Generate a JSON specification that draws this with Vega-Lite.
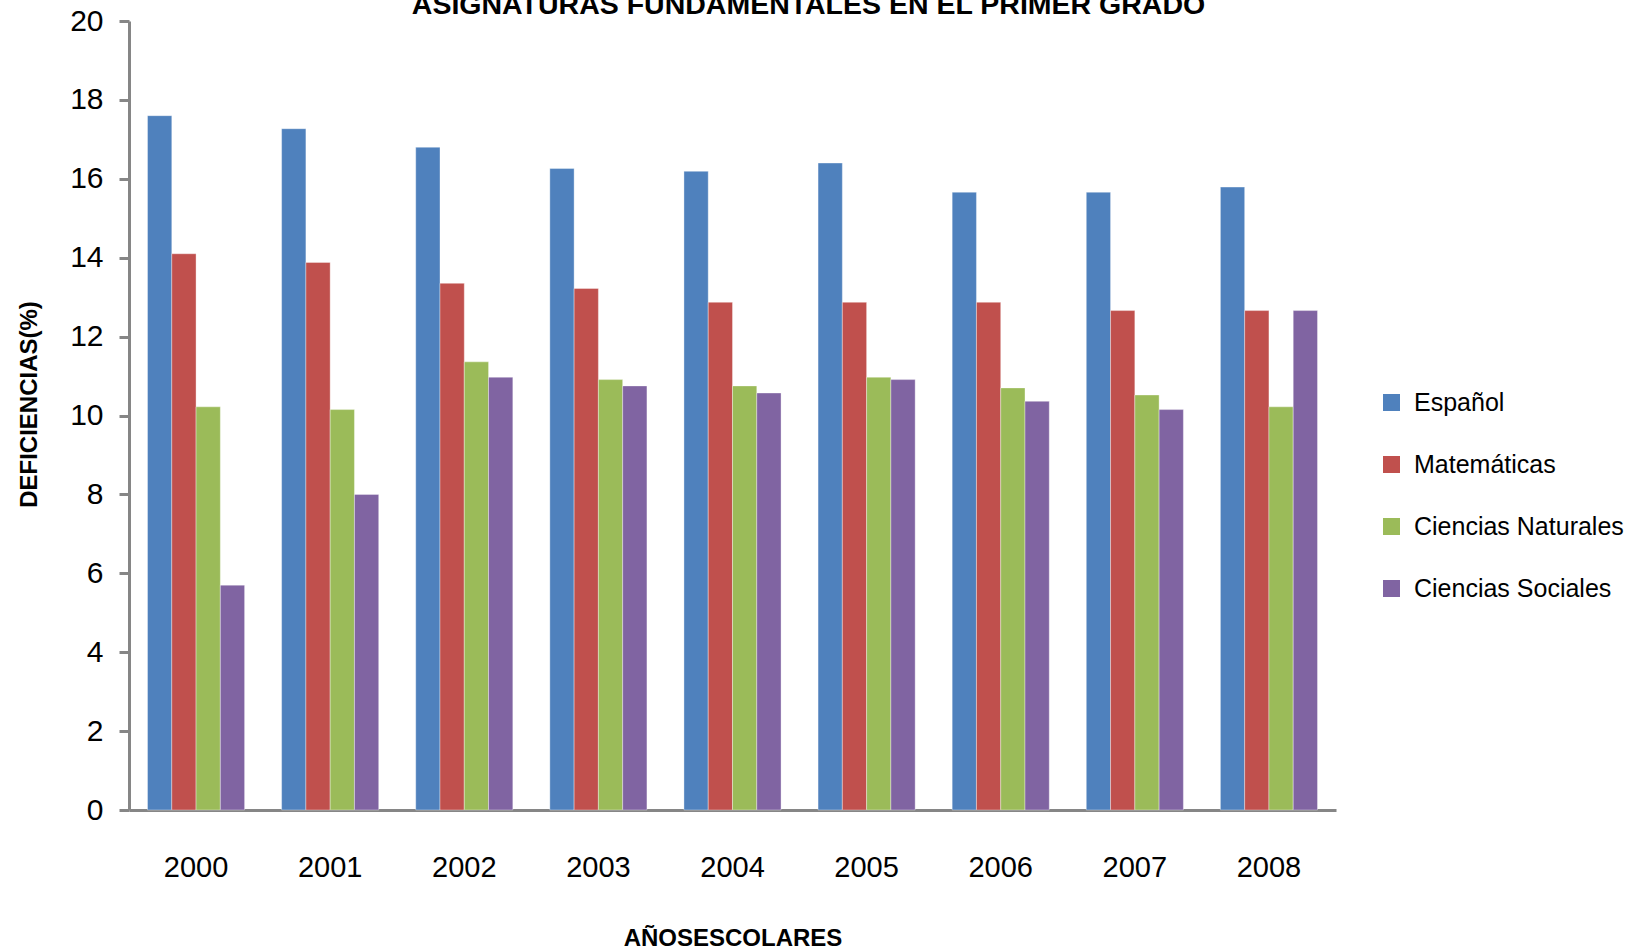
{
  "$schema": "https://vega.github.io/schema/vega-lite/v6.json",
  "autosize": {"type": "none"},
  "width": 1207,
  "height": 789,
  "padding": {"left": 129, "top": 21, "right": 301, "bottom": 142},
  "background": "white",
  "title": {
    "text": "ASIGNATURAS  FUNDAMENTALES EN EL PRIMER GRADO",
    "font": "Liberation Sans",
    "fontSize": 28.5,
    "fontWeight": "bold",
    "color": "black",
    "anchor": "middle",
    "frame": "group",
    "baseline": "alphabetic",
    "offset": -36,
    "dx": 76
  },
  "data": {
    "values": [
      {"year": "2000", "asignatura": "Español", "valor": 17.6},
      {"year": "2000", "asignatura": "Matemáticas", "valor": 14.1},
      {"year": "2000", "asignatura": "Ciencias Naturales", "valor": 10.22},
      {"year": "2000", "asignatura": "Ciencias Sociales", "valor": 5.7},
      {"year": "2001", "asignatura": "Español", "valor": 17.27},
      {"year": "2001", "asignatura": "Matemáticas", "valor": 13.88},
      {"year": "2001", "asignatura": "Ciencias Naturales", "valor": 10.15},
      {"year": "2001", "asignatura": "Ciencias Sociales", "valor": 8.0},
      {"year": "2002", "asignatura": "Español", "valor": 16.8},
      {"year": "2002", "asignatura": "Matemáticas", "valor": 13.35},
      {"year": "2002", "asignatura": "Ciencias Naturales", "valor": 11.36},
      {"year": "2002", "asignatura": "Ciencias Sociales", "valor": 10.97},
      {"year": "2003", "asignatura": "Español", "valor": 16.26},
      {"year": "2003", "asignatura": "Matemáticas", "valor": 13.22},
      {"year": "2003", "asignatura": "Ciencias Naturales", "valor": 10.91},
      {"year": "2003", "asignatura": "Ciencias Sociales", "valor": 10.75},
      {"year": "2004", "asignatura": "Español", "valor": 16.19},
      {"year": "2004", "asignatura": "Matemáticas", "valor": 12.87},
      {"year": "2004", "asignatura": "Ciencias Naturales", "valor": 10.75},
      {"year": "2004", "asignatura": "Ciencias Sociales", "valor": 10.57},
      {"year": "2005", "asignatura": "Español", "valor": 16.4},
      {"year": "2005", "asignatura": "Matemáticas", "valor": 12.87},
      {"year": "2005", "asignatura": "Ciencias Naturales", "valor": 10.97},
      {"year": "2005", "asignatura": "Ciencias Sociales", "valor": 10.91},
      {"year": "2006", "asignatura": "Español", "valor": 15.66},
      {"year": "2006", "asignatura": "Matemáticas", "valor": 12.87},
      {"year": "2006", "asignatura": "Ciencias Naturales", "valor": 10.7},
      {"year": "2006", "asignatura": "Ciencias Sociales", "valor": 10.36},
      {"year": "2007", "asignatura": "Español", "valor": 15.66},
      {"year": "2007", "asignatura": "Matemáticas", "valor": 12.66},
      {"year": "2007", "asignatura": "Ciencias Naturales", "valor": 10.52},
      {"year": "2007", "asignatura": "Ciencias Sociales", "valor": 10.15},
      {"year": "2008", "asignatura": "Español", "valor": 15.79},
      {"year": "2008", "asignatura": "Matemáticas", "valor": 12.66},
      {"year": "2008", "asignatura": "Ciencias Naturales", "valor": 10.22},
      {"year": "2008", "asignatura": "Ciencias Sociales", "valor": 12.66}
    ]
  },
  "mark": {"type": "bar", "stroke": "white", "strokeWidth": 0.6, "strokeOpacity": 0.6},
  "encoding": {
    "x": {
      "field": "year",
      "type": "nominal",
      "scale": {"paddingInner": 0.276, "paddingOuter": 0.138},
      "axis": {
        "title": "AÑOSESCOLARES",
        "titleFont": "Liberation Sans",
        "titleFontSize": 24,
        "titleFontWeight": "bold",
        "titleColor": "black",
        "titlePadding": 44,
        "labelAngle": 0,
        "labelFont": "Liberation Sans",
        "labelFontSize": 29,
        "labelColor": "black",
        "labelPadding": 43,
        "ticks": false,
        "tickSize": 0,
        "domainColor": "#868686",
        "domainWidth": 3,
        "grid": false
      }
    },
    "xOffset": {"field": "asignatura", "type": "nominal", "sort": ["Español", "Matemáticas", "Ciencias Naturales", "Ciencias Sociales"]},
    "y": {
      "field": "valor",
      "type": "quantitative",
      "scale": {"domain": [0, 20], "nice": false},
      "axis": {
        "title": "DEFICIENCIAS(%)",
        "titleFont": "Liberation Sans",
        "titleFontSize": 24,
        "titleFontWeight": "bold",
        "titleColor": "black",
        "titlePadding": 28,
        "titleY": 383,
        "values": [0, 2, 4, 6, 8, 10, 12, 14, 16, 18, 20],
        "labelFont": "Liberation Sans",
        "labelFontSize": 30,
        "labelColor": "black",
        "labelPadding": 16,
        "tickSize": 10,
        "tickWidth": 3,
        "tickColor": "#868686",
        "domainColor": "#868686",
        "domainWidth": 3,
        "grid": false
      }
    },
    "color": {
      "field": "asignatura",
      "type": "nominal",
      "sort": ["Español", "Matemáticas", "Ciencias Naturales", "Ciencias Sociales"],
      "scale": {
        "domain": ["Español", "Matemáticas", "Ciencias Naturales", "Ciencias Sociales"],
        "range": ["#4F81BD", "#C0504D", "#9BBB59", "#8064A2"]
      },
      "legend": {
        "title": null,
        "orient": "none",
        "legendX": 1250,
        "legendY": 369,
        "symbolType": "square",
        "symbolSize": 289,
        "symbolStrokeWidth": 0,
        "labelFont": "Liberation Sans",
        "labelFontSize": 25,
        "labelColor": "black",
        "labelOffset": 10,
        "labelLimit": 400,
        "rowPadding": 36
      }
    }
  },
  "config": {"view": {"stroke": null}}
}
